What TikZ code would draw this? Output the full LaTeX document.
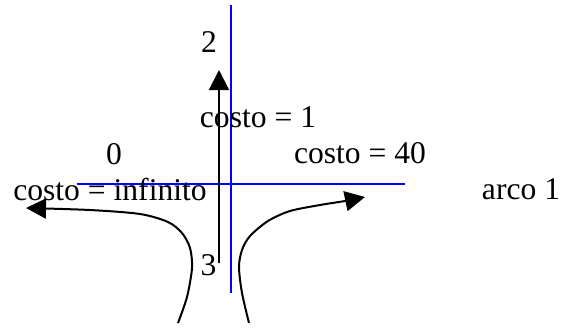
\documentclass[tikz,border=0pt]{standalone}
\usepackage{fontspec}
\setmainfont{Liberation Serif}
\usetikzlibrary{arrows.meta}

\begin{document}
\begin{tikzpicture}[
    x=0.5pt, y=-0.5pt,
    >={Triangle[length=10pt,width=10pt]},
    etiqueta/.style={font=\fontsize{15.8}{18}\selectfont, anchor=base, inner sep=0pt},
    eje/.style={blue, line width=0.75pt},
    flecha/.style={->, black, line width=1pt},
  ]
  \useasboundingbox (0,0) rectangle (561,328);

  % ========= EJES =========
  \coordinate (ejeN) at (231,5);
  \coordinate (ejeS) at (231,293);
  \coordinate (ejeO) at (77,184);
  \coordinate (ejeE) at (405,184);
  \draw[eje] (ejeN) -- (ejeS);
  \draw[eje] (ejeO) -- (ejeE);

  % ========= ETIQUETAS =========
  \node[etiqueta] (nodo2) at (209,52) {2};
  \node[etiqueta] (costoUno) at (258,127) {costo = 1};
  \node[etiqueta] (nodo0) at (114,164) {0};
  \node[etiqueta] (costoCuarenta) at (360,163) {costo = 40};
  \node[etiqueta] (costoInf) at (110,200) {costo = infinito};
  \node[etiqueta] (arcoUno) at (521,199) {arco 1};
  \node[etiqueta] (nodo3) at (208.5,275) {3};

  % ========= ARCOS =========
  % 3 -> 2
  \coordinate (subeIni) at (219,263);
  \coordinate (subeFin) at (219,70);
  \draw[flecha] (subeIni) -- (subeFin);

  % giro a la izquierda
  \draw[flecha] plot[smooth] coordinates {(178,323) (187,297) (192,268) (190,248)
    (182,233) (168,222) (140,214) (90,210) (26,208)};

  % giro a la derecha
  \draw[flecha] plot[smooth] coordinates {(249,323) (242,293) (239,267) (242,250)
    (250,236) (268,221) (290,211) (320,205) (345,201) (365,197)};
\end{tikzpicture}
\end{document}
